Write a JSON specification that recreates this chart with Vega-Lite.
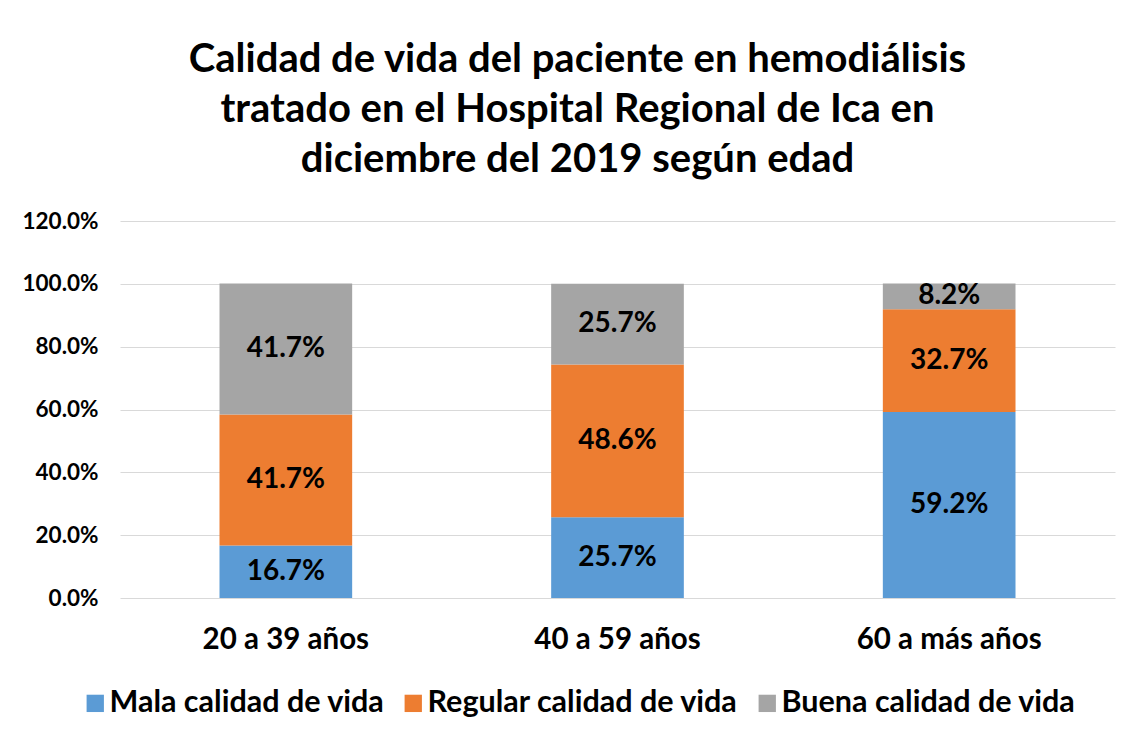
{
  "$schema": "https://vega.github.io/schema/vega-lite/v6.json",
  "width": 995,
  "height": 377,
  "autosize": "none",
  "padding": {"left": 120, "top": 221, "right": 29, "bottom": 139},
  "background": "white",
  "title": {
    "text": ["Calidad de vida del paciente en hemodiálisis", "tratado en el Hospital Regional de Ica en", "diciembre del 2019 según edad"],
    "font": "Lato",
    "fontSize": 40,
    "fontWeight": "bold",
    "color": "#000000",
    "lineHeight": 50,
    "anchor": "middle",
    "dx": -40,
    "offset": 30
  },
  "data": {
    "values": [
      {"edad": "20 a 39 años", "calidad": "Mala calidad de vida", "orden": 1, "pct": 0.167},
      {"edad": "20 a 39 años", "calidad": "Regular calidad de vida", "orden": 2, "pct": 0.417},
      {"edad": "20 a 39 años", "calidad": "Buena calidad de vida", "orden": 3, "pct": 0.417},
      {"edad": "40 a 59 años", "calidad": "Mala calidad de vida", "orden": 1, "pct": 0.257},
      {"edad": "40 a 59 años", "calidad": "Regular calidad de vida", "orden": 2, "pct": 0.486},
      {"edad": "40 a 59 años", "calidad": "Buena calidad de vida", "orden": 3, "pct": 0.257},
      {"edad": "60 a más años", "calidad": "Mala calidad de vida", "orden": 1, "pct": 0.592},
      {"edad": "60 a más años", "calidad": "Regular calidad de vida", "orden": 2, "pct": 0.327},
      {"edad": "60 a más años", "calidad": "Buena calidad de vida", "orden": 3, "pct": 0.082}
    ]
  },
  "encoding": {
    "x": {
      "field": "edad",
      "type": "nominal",
      "sort": null,
      "title": null,
      "scale": {"paddingInner": 0.6, "paddingOuter": 0.3},
      "axis": {
        "labelAngle": 0,
        "labelFont": "Lato",
        "labelFontSize": 29.5,
        "labelFontWeight": "bold",
        "labelColor": "#000000",
        "labelPadding": 27,
        "labelLimit": 400,
        "ticks": false,
        "domain": false,
        "grid": false
      }
    },
    "y": {
      "field": "pct",
      "type": "quantitative",
      "stack": "zero",
      "title": null,
      "scale": {"domain": [0, 1.2], "nice": false},
      "axis": {
        "values": [0, 0.2, 0.4, 0.6, 0.8, 1.0, 1.2],
        "format": ".1%",
        "labelFont": "Lato",
        "labelFontSize": 22.5,
        "labelFontWeight": "bold",
        "labelColor": "#000000",
        "labelPadding": 22,
        "ticks": false,
        "domain": false,
        "grid": true,
        "gridColor": "#D9D9D9",
        "gridWidth": 1
      }
    },
    "order": {"field": "orden", "type": "quantitative"}
  },
  "layer": [
    {
      "mark": {"type": "bar"},
      "encoding": {
        "color": {
          "field": "calidad",
          "type": "nominal",
          "scale": {
            "domain": ["Mala calidad de vida", "Regular calidad de vida", "Buena calidad de vida"],
            "range": ["#5B9BD5", "#ED7D31", "#A5A5A5"]
          },
          "legend": {
            "title": null,
            "orient": "none",
            "direction": "horizontal",
            "legendX": -40,
            "legendY": 467,
            "symbolType": "square",
            "symbolSize": 300,
            "symbolStrokeWidth": 0,
            "symbolOpacity": 1,
            "labelFont": "Lato",
            "labelFontSize": 30.5,
            "labelFontWeight": "bold",
            "labelColor": "#000000",
            "labelOffset": -1,
            "columnPadding": 13,
            "labelLimit": 500
          }
        }
      }
    },
    {
      "mark": {"type": "text", "font": "Lato", "fontSize": 28, "fontWeight": "bold", "color": "#000000", "baseline": "middle"},
      "encoding": {
        "y": {"field": "pct", "type": "quantitative", "stack": "zero", "bandPosition": 0.5},
        "text": {"field": "pct", "type": "quantitative", "format": ".1%"}
      }
    }
  ],
  "config": {"view": {"stroke": null}}
}
